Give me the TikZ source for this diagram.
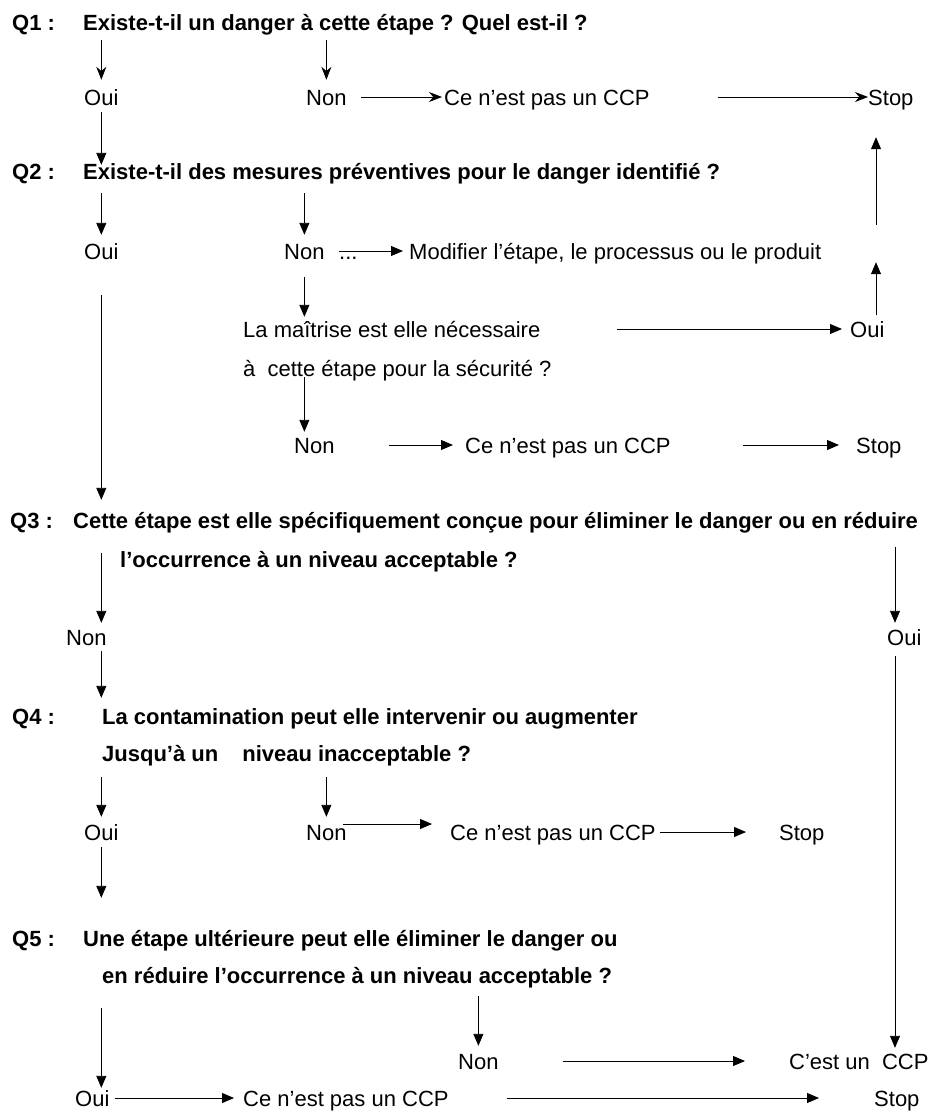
\documentclass[tikz,border=0pt]{standalone}
\usepackage{fontspec}
\setmainfont{Liberation Sans}
\usetikzlibrary{arrows.meta,positioning}
\tikzset{
  txt/.style={anchor=west,inner sep=0pt,text height=16pt,text depth=0pt,
    font=\fontsize{22}{26}\selectfont},
  qtxt/.style={txt,font=\fontsize{22}{26}\selectfont\bfseries},
  arr/.style={-{Triangle[length=12pt,width=10pt]},line width=0.9pt},
  sarr/.style={-{Stealth[length=13pt,width=10pt]},line width=0.9pt}
}
\begin{document}
\begin{tikzpicture}[x=1pt,y=-1pt]
\useasboundingbox (0,0) rectangle (935,1111);
\coordinate (rx) at (876,0);
\coordinate (rx2) at (895,0);
% ---------- Q1 ----------
\node[qtxt] (q1) at (12,22) {Q1 :};
\node[qtxt] (q1t) at (83,22) {Existe-t-il un danger à cette étape ? Quel est-il ?};
\node[txt] (oui1) at (84,97) {Oui};
\node[txt] (non1) at (306,97) {Non};
\node[txt] (pas1) at (444,97) {Ce n’est pas un CCP};
\node[txt] (stop1) at (868,97) {Stop};
\draw[sarr,shorten <=10pt,shorten >=9pt] (q1t.south -| oui1) -- (oui1.north);
\draw[sarr,shorten <=10pt,shorten >=9pt] (q1t.south -| non1) -- (non1.north);
\draw[sarr,shorten <=14pt,shorten >=2pt] (non1.east) -- (pas1.west);
\draw[sarr,shorten <=68pt] (pas1.east) -- (stop1.west);
% ---------- Q2 ----------
\node[qtxt] (q2) at (12,171) {Q2 :};
\node[qtxt] (q2t) at (83,171) {Existe-t-il des mesures préventives pour le danger identifié ?};
\draw[arr,shorten <=7pt,shorten >=-2pt] (oui1.south) -- (oui1.south |- q2t.north);
\node[txt] (oui2) at (84,251) {Oui};
\node[txt] (non2) at (284,251) {Non};
\node[txt] (dots) at (339,251) {...};
\node[txt] (modif) at (409,251) {Modifier l’étape, le processus ou le produit};
\draw[arr,shorten <=14pt,shorten >=8pt] (q2t.south -| oui2) -- (oui2.north);
\draw[arr,shorten <=14pt,shorten >=8pt] (q2t.south -| non2) -- (non2.north);
\draw[arr,shorten >=6pt] (dots.west) -- (modif.west);
\node[txt] (mait) at (243,329) {La maîtrise est elle nécessaire};
\node[txt] (secu) at (243,368) {à\ \ cette étape pour la sécurité ?};
\node[txt] (oui3) at (850,329) {Oui};
\draw[arr,shorten <=18pt,shorten >=4pt] (non2.south) -- (non2.south |- mait.north);
\draw[arr,shorten <=76pt,shorten >=8pt] (mait.east) -- (oui3.west);
\draw[arr,shorten <=6pt,shorten >=3pt] (oui3.north -| rx) -- (modif.south -| rx);
\draw[arr,shorten <=18pt,shorten >=32pt] (modif.north -| rx) -- (stop1.south -| rx);
\node[txt] (non3) at (294,445) {Non};
\node[txt] (pas3) at (465,445) {Ce n’est pas un CCP};
\node[txt] (stop3) at (856,445) {Stop};
\draw[arr,shorten <=1pt,shorten >=5pt] (secu.south -| non2) -- (non3.north -| non2);
\draw[arr,shorten <=54pt,shorten >=12pt] (non3.east) -- (pas3.west);
\draw[arr,shorten <=72pt,shorten >=17pt] (pas3.east) -- (stop3.west);
% ---------- Q3 ----------
\node[qtxt] (q3) at (10,520) {Q3 :};
\node[qtxt] (q3t) at (73,520) {Cette étape est elle spécifiquement conçue pour éliminer le danger ou en réduire};
\node[qtxt] (occ) at (120,559) {l’occurrence à un niveau acceptable ?};
\draw[arr,shorten <=36pt,shorten >=12pt] (oui2.south) -- (oui2.south |- q3t.north);
\node[txt] (non4) at (66,637) {Non};
\node[txt] (oui4) at (887,637) {Oui};
\draw[arr,shorten <=2pt,shorten >=6pt] (occ.north -| oui2) -- (non4.north -| oui2);
\draw[arr,shorten <=-4pt,shorten >=6pt] (occ.north -| rx2) -- (oui4.north -| rx2);
% ---------- Q4 ----------
\node[qtxt] (q4) at (12,716) {Q4 :};
\node[qtxt] (q4t) at (102,716) {La contamination peut elle intervenir ou augmenter};
\node[qtxt] (jusq) at (102,753) {Jusqu’à un\hspace{24pt}niveau inacceptable ?};
\draw[arr,shorten <=6pt,shorten >=10pt] (non4.south -| oui2) -- (q4t.north -| oui2);
\node[txt] (oui5) at (84,832) {Oui};
\node[txt] (non5) at (306,832) {Non};
\node[txt] (pas5) at (450,832) {Ce n’est pas un CCP};
\node[txt] (stop5) at (779,832) {Stop};
\draw[arr,shorten <=16pt,shorten >=7pt] (jusq.south -| oui5) -- (oui5.north);
\draw[arr,shorten <=16pt,shorten >=7pt] (jusq.south -| non5) -- (non5.north);
\draw[arr,shorten <=-4pt,shorten >=18pt] ([yshift=8pt]non5.east) -- ([yshift=8pt]pas5.west);
\draw[arr,shorten <=4pt,shorten >=33pt] (pas5.east) -- (stop5.west);
% ---------- Q5 ----------
\node[qtxt] (q5) at (12,938) {Q5 :};
\node[qtxt] (q5t) at (83,938) {Une étape ultérieure peut elle éliminer le danger ou};
\node[qtxt] (redu) at (102,975) {en réduire l’occurrence à un niveau acceptable ?};
\draw[arr,shorten <=7pt,shorten >=32pt] (oui5.south) -- (oui5.south |- q5t.north);
\node[txt] (non6) at (458,1061) {Non};
\node[txt] (cest) at (789,1061) {C’est un\ \ CCP};
\node[txt] (oui6) at (75,1098) {Oui};
\node[txt] (pas6) at (243,1098) {Ce n’est pas un CCP};
\node[txt] (stop6) at (874,1098) {Stop};
\draw[arr,shorten <=11pt,shorten >=5pt] (oui4.south -| rx2) -- (cest.north -| rx2);
\draw[arr,shorten <=25pt,shorten >=2pt] (redu.south -| oui2) -- (oui6.north -| oui2);
\draw[arr,shorten <=13pt,shorten >=7pt] (redu.south -| non6) -- (non6.north);
\draw[arr,shorten <=64pt,shorten >=44pt] (non6.east) -- (cest.west);
\draw[arr,shorten <=5pt,shorten >=9pt] (oui6.east) -- (pas6.west);
\draw[arr,shorten <=58pt,shorten >=55pt] (pas6.east) -- (stop6.west);
\end{tikzpicture}
\end{document}
